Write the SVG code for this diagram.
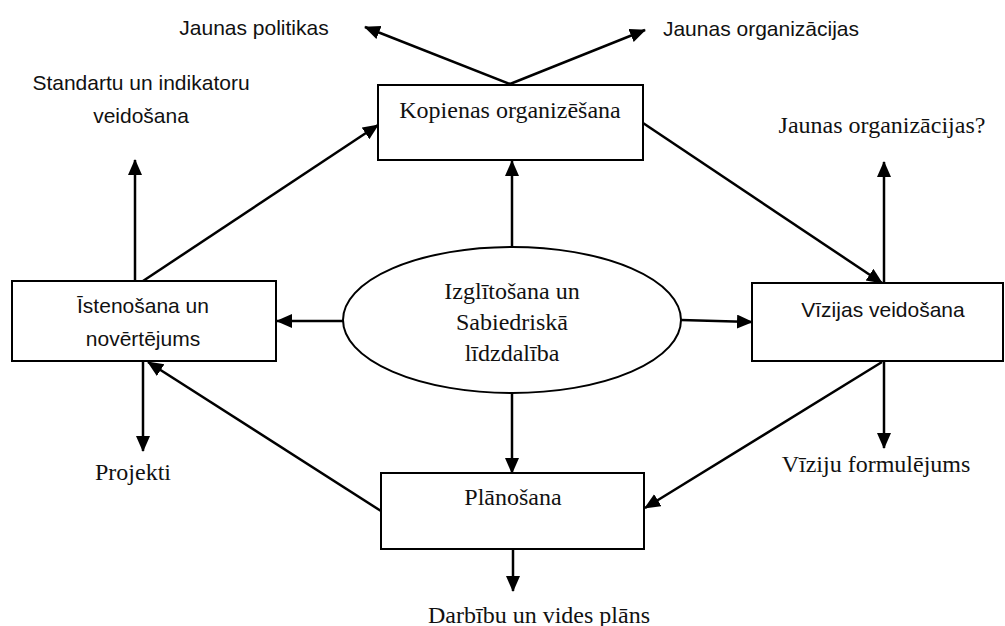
<svg xmlns="http://www.w3.org/2000/svg" width="1005" height="626" viewBox="0 0 1005 626">
<style>
.box{fill:#fff;stroke:#000;stroke-width:2}
.ser{font-family:"Liberation Serif","Times New Roman",serif;font-size:24px;fill:#111;text-anchor:middle}
.san{font-family:"Liberation Sans",Arial,sans-serif;font-size:21px;fill:#111;text-anchor:middle}
.con line{stroke:#000;stroke-width:2.5;marker-end:url(#ah)}
</style>
<defs>
<marker id="ah" markerUnits="userSpaceOnUse" markerWidth="17" markerHeight="15" refX="15" refY="7" orient="auto">
<path d="M0,0 L16,7 L0,14 z" fill="#000"/>
</marker>
</defs>
<g id="connectors" class="con">
<line x1="510" y1="84" x2="365" y2="27"/>
<line x1="510" y1="84" x2="645" y2="30"/>
<line x1="512" y1="247" x2="512" y2="161"/>
<line x1="512" y1="393" x2="512" y2="473"/>
<line x1="343" y1="321" x2="277" y2="321"/>
<line x1="681" y1="320" x2="752" y2="322"/>
<line x1="643" y1="123" x2="882" y2="283"/>
<line x1="884" y1="283" x2="884" y2="162"/>
<line x1="884" y1="361" x2="884" y2="448"/>
<line x1="882" y1="362" x2="645" y2="508"/>
<line x1="513" y1="549" x2="513" y2="591"/>
<line x1="381" y1="511" x2="148" y2="362"/>
<line x1="143" y1="361" x2="143" y2="451"/>
<line x1="143" y1="281" x2="378" y2="125"/>
<line x1="135" y1="281" x2="135" y2="160"/>
</g>
<g id="kopienas">
<rect class="box" x="378" y="85" width="265" height="75"/>
<text class="ser" x="510" y="118">Kopienas organizēšana</text>
</g>
<g id="istenosana">
<rect class="box" x="12" y="281" width="264" height="80"/>
<text class="san" x="143" y="313">Īstenošana un</text>
<text class="san" x="143" y="346">novērtējums</text>
</g>
<g id="vizijas">
<rect class="box" x="752" y="283" width="251" height="78"/>
<text class="san" x="883" y="317">Vīzijas veidošana</text>
</g>
<g id="planosana">
<rect class="box" x="381" y="473" width="263" height="76"/>
<text class="ser" x="513" y="505">Plānošana</text>
</g>
<g id="izglitosana">
<ellipse cx="512" cy="320" rx="169" ry="73" fill="#fff" stroke="#000" stroke-width="2"/>
<text class="ser" x="512" y="299">Izglītošana un</text>
<text class="ser" x="512" y="330">Sabiedriskā</text>
<text class="ser" x="512" y="361">līdzdalība</text>
</g>
<g id="labels">
<text class="san" x="254" y="35">Jaunas politikas</text>
<text class="san" x="761" y="36">Jaunas organizācijas</text>
<text class="san" x="141" y="90">Standartu un indikatoru</text>
<text class="san" x="141" y="123">veidošana</text>
<text class="ser" x="882" y="133">Jaunas organizācijas?</text>
<text class="ser" x="876" y="472">Vīziju formulējums</text>
<text class="ser" x="133" y="480">Projekti</text>
<text class="ser" x="539" y="623">Darbību un vides plāns</text>
</g>
</svg>
